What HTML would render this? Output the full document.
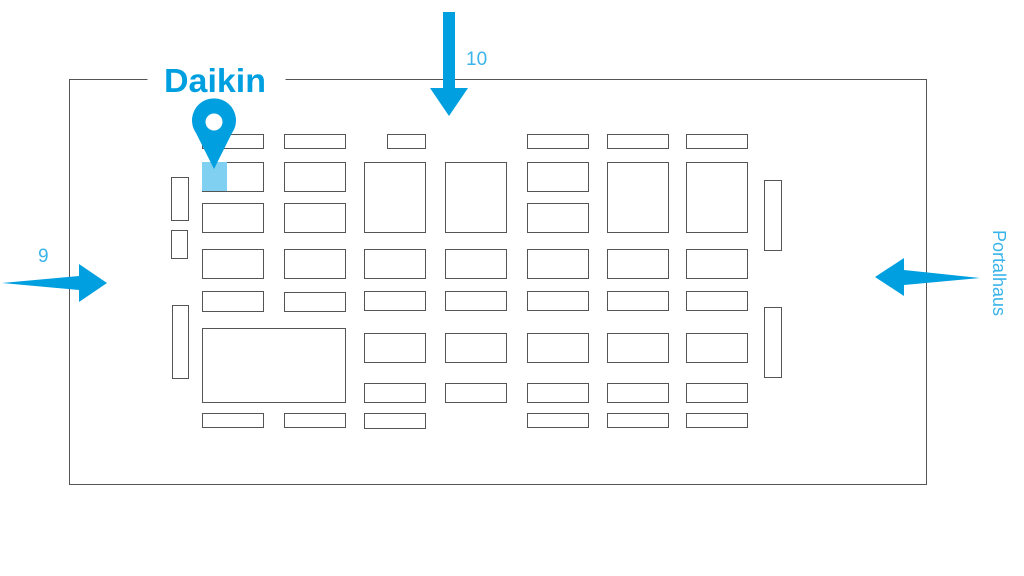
<!DOCTYPE html>
<html><head><style>body{margin:0;background:#fff}svg{display:block}</style></head><body>
<svg width="1024" height="576" xmlns="http://www.w3.org/2000/svg" font-family="Liberation Sans, sans-serif">
<g fill="none" stroke="#555" stroke-width="1">
<path d="M147.5 79.5H69.5V484.5H926.5V79.5H285.5"/>
<rect x="202.5" y="134.5" width="61" height="14"/>
<rect x="284.5" y="134.5" width="61" height="14"/>
<rect x="387.5" y="134.5" width="38" height="14"/>
<rect x="527.5" y="134.5" width="61" height="14"/>
<rect x="607.5" y="134.5" width="61" height="14"/>
<rect x="686.5" y="134.5" width="61" height="14"/>
<rect x="202.5" y="162.5" width="61" height="29"/>
<rect x="284.5" y="162.5" width="61" height="29"/>
<rect x="364.5" y="162.5" width="61" height="70"/>
<rect x="445.5" y="162.5" width="61" height="70"/>
<rect x="527.5" y="162.5" width="61" height="29"/>
<rect x="607.5" y="162.5" width="61" height="70"/>
<rect x="686.5" y="162.5" width="61" height="70"/>
<rect x="202.5" y="203.5" width="61" height="29"/>
<rect x="284.5" y="203.5" width="61" height="29"/>
<rect x="527.5" y="203.5" width="61" height="29"/>
<rect x="202.5" y="249.5" width="61" height="29"/>
<rect x="284.5" y="249.5" width="61" height="29"/>
<rect x="364.5" y="249.5" width="61" height="29"/>
<rect x="445.5" y="249.5" width="61" height="29"/>
<rect x="527.5" y="249.5" width="61" height="29"/>
<rect x="607.5" y="249.5" width="61" height="29"/>
<rect x="686.5" y="249.5" width="61" height="29"/>
<rect x="202.5" y="291.5" width="61" height="20"/>
<rect x="284.5" y="292.5" width="61" height="19"/>
<rect x="364.5" y="291.5" width="61" height="19"/>
<rect x="445.5" y="291.5" width="61" height="19"/>
<rect x="527.5" y="291.5" width="61" height="19"/>
<rect x="607.5" y="291.5" width="61" height="19"/>
<rect x="686.5" y="291.5" width="61" height="19"/>
<rect x="202.5" y="328.5" width="143" height="74"/>
<rect x="364.5" y="333.5" width="61" height="29"/>
<rect x="445.5" y="333.5" width="61" height="29"/>
<rect x="527.5" y="333.5" width="61" height="29"/>
<rect x="607.5" y="333.5" width="61" height="29"/>
<rect x="686.5" y="333.5" width="61" height="29"/>
<rect x="364.5" y="383.5" width="61" height="19"/>
<rect x="445.5" y="383.5" width="61" height="19"/>
<rect x="527.5" y="383.5" width="61" height="19"/>
<rect x="607.5" y="383.5" width="61" height="19"/>
<rect x="686.5" y="383.5" width="61" height="19"/>
<rect x="202.5" y="413.5" width="61" height="14"/>
<rect x="284.5" y="413.5" width="61" height="14"/>
<rect x="364.5" y="413.5" width="61" height="15"/>
<rect x="527.5" y="413.5" width="61" height="14"/>
<rect x="607.5" y="413.5" width="61" height="14"/>
<rect x="686.5" y="413.5" width="61" height="14"/>
<rect x="171.5" y="177.5" width="17" height="43"/>
<rect x="171.5" y="230.5" width="16" height="28"/>
<rect x="172.5" y="305.5" width="16" height="73"/>
<rect x="764.5" y="180.5" width="17" height="70"/>
<rect x="764.5" y="307.5" width="17" height="70"/>
</g>
<rect x="202" y="162" width="25" height="29" fill="#7fd0f1"/>
<g fill="#009fe0">
<path d="M214 169 L196 133 A22 22 0 1 1 232 133 Z"/>
<path d="M443 12 L455 12 L455 88 L468 88 L449 116 L430 88 L443 88 Z"/>
<path d="M2 283 L79 276 L79 264 L107 283 L79 302 L79 290 Z"/>
<path d="M980 278 L904 270 L904 258 L875 277 L904 296 L904 285 Z"/>
</g>
<circle cx="214" cy="122" r="8.5" fill="#fff"/>
<text x="164" y="92" font-size="33" font-weight="bold" fill="#009fe0" textLength="102" lengthAdjust="spacingAndGlyphs">Daikin</text>
<text x="466" y="65" font-size="19" fill="#3ab4ea">10</text>
<text x="38" y="262" font-size="19" fill="#3ab4ea">9</text>
<text transform="translate(993,230) rotate(90)" font-size="18" fill="#3ab4ea">Portalhaus</text>
</svg>
</body></html>
